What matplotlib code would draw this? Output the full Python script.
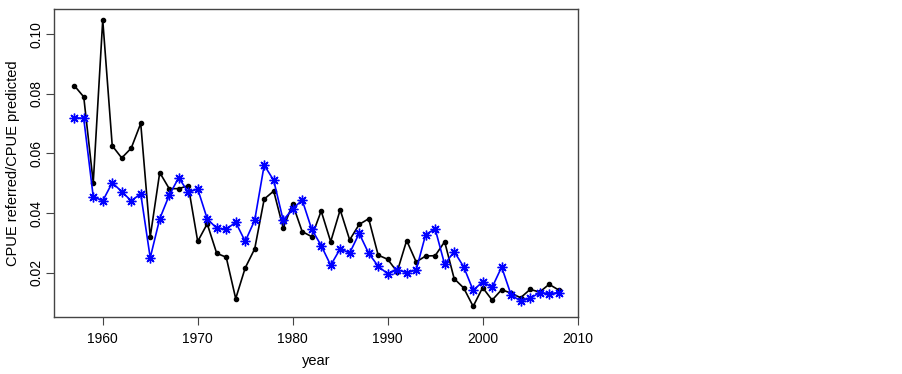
import matplotlib
matplotlib.use("Agg")
import matplotlib.pyplot as plt
import numpy as np

plt.rcParams['font.family'] = ['Liberation Sans', 'DejaVu Sans']

years = list(range(1957, 2009))
cpue_referred = [0.0828, 0.0790, 0.0502, 0.1048, 0.0626, 0.0585, 0.0618, 0.0701, 0.0320, 0.0536,
                 0.0482, 0.0482, 0.0492, 0.0305, 0.0364, 0.0265, 0.0252, 0.0113, 0.0216, 0.0280,
                 0.0447, 0.0474, 0.0350, 0.0430, 0.0338, 0.0321, 0.0407, 0.0304, 0.0411, 0.0310,
                 0.0362, 0.0381, 0.0259, 0.0245, 0.0203, 0.0308, 0.0236, 0.0256, 0.0257, 0.0304,
                 0.0180, 0.0149, 0.0087, 0.0150, 0.0108, 0.0143, 0.0131, 0.0116, 0.0144, 0.0135,
                 0.0161, 0.0142]
cpue_predicted = [0.0720, 0.0718, 0.0455, 0.0441, 0.0502, 0.0472, 0.0441, 0.0465, 0.0250, 0.0381,
                  0.0460, 0.0519, 0.0470, 0.0481, 0.0381, 0.0349, 0.0346, 0.0369, 0.0305, 0.0376,
                  0.0561, 0.0510, 0.0376, 0.0414, 0.0444, 0.0346, 0.0291, 0.0225, 0.0280, 0.0266,
                  0.0332, 0.0265, 0.0222, 0.0196, 0.0210, 0.0200, 0.0209, 0.0328, 0.0347, 0.0228,
                  0.0271, 0.0220, 0.0141, 0.0169, 0.0151, 0.0219, 0.0125, 0.0105, 0.0114, 0.0133,
                  0.0130, 0.0133]
xticks = [1960, 1970, 1980, 1990, 2000, 2010]
yticks = [0.02, 0.04, 0.06, 0.08, 0.10]
ytick_labels = ["0.02", "0.04", "0.06", "0.08", "0.10"]

fig = plt.figure(figsize=(9.02, 3.74), dpi=100)
ax = fig.add_axes([0.0602, 0.1524, 0.5806, 0.8236])

ax.plot(years, cpue_referred, color='black', lw=1.2, marker='o', ms=3.0)
ax.plot(years, cpue_predicted, color='#0000ff', lw=1.2, marker=(8, 2, 0), ms=7,
        mec='#0000ff', mew=1.0)

ax.set_xlim(1954.9, 2010.04)
ax.set_ylim(0.00513, 0.1085)
ax.set_xticks(xticks)
ax.set_yticks(yticks)
ax.set_yticklabels(ytick_labels, rotation=90, va='center')
ax.tick_params(direction='out', length=5.5, width=0.8, labelsize=10, color='#444444')
ax.tick_params(axis='x', pad=5)
ax.tick_params(axis='y', pad=2)
for s in ax.spines.values():
    s.set_color('#444444')
    s.set_linewidth(1.0)

ax.set_xlabel("year", fontsize=10.5, labelpad=6)
ax.set_ylabel("CPUE referred/CPUE predicted", fontsize=10.5, labelpad=7)

fig.savefig("out.png", dpi=100)
